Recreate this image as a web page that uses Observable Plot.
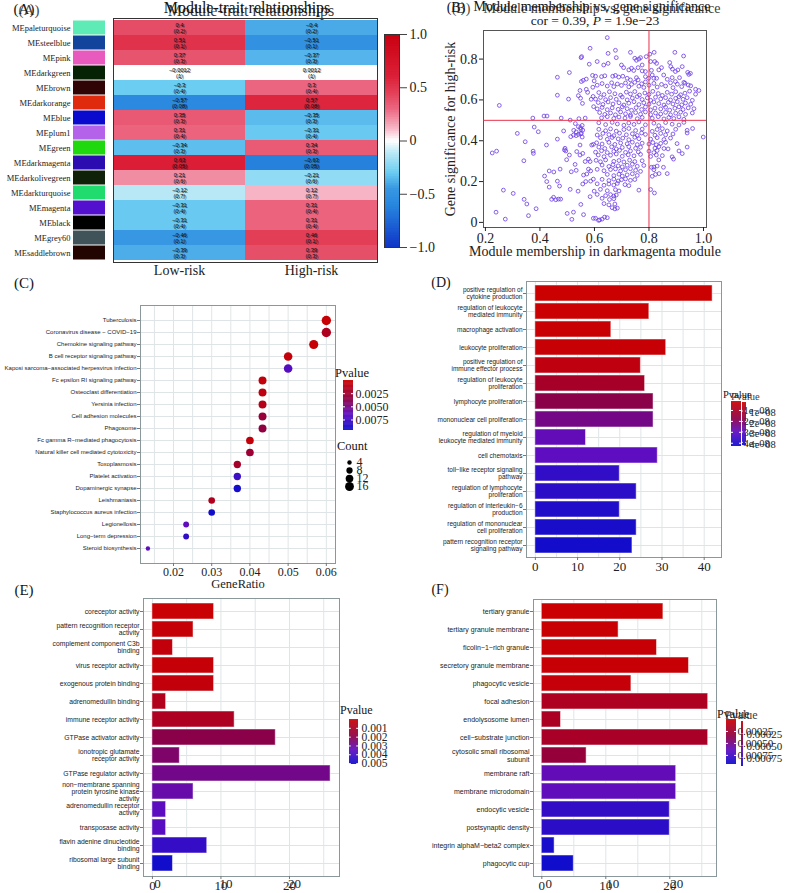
<!DOCTYPE html>
<html><head><meta charset="utf-8">
<script src="https://cdn.jsdelivr.net/npm/d3@7"></script>
<script src="https://cdn.jsdelivr.net/npm/@observablehq/plot@0.6"></script>
<style>
body{margin:0;background:#fff;}
#fig{position:relative;width:787px;height:893px;overflow:hidden;background:#fff;}
.t{position:absolute;white-space:nowrap;font-family:"Liberation Serif","DejaVu Serif",serif;color:#151515;line-height:1;}
svg{overflow:visible;}
</style></head><body><div id="fig"></div><script>
// ---------------- DATA ----------------
// (A) module-trait heatmap
const modules = ["MEpaleturquoise","MEsteelblue","MEpink","MEdarkgreen","MEbrown","MEdarkorange","MEblue","MEplum1","MEgreen","MEdarkmagenta","MEdarkolivegreen","MEdarkturquoise","MEmagenta","MEblack","MEgrey60","MEsaddlebrown"];
const moduleColors = ["#5EEBB5","#12449C","#E85ABE","#052205","#300404","#E02A0E","#0A0ACF","#B362E9","#20D80E","#2A0CB0","#0F2209","#20DB6E","#5410CF","#000000","#3F5358","#220500"];
const traits = ["Low-risk","High-risk"];
const lowRiskCor = [0.4,0.51,0.37,-0.0012,-0.3,-0.57,0.35,0.31,-0.34,0.63,0.21,-0.12,-0.31,-0.31,-0.46,-0.39];
const highRiskCor = [-0.4,-0.51,-0.37,0.0012,0.3,0.57,-0.35,-0.31,0.34,-0.63,-0.21,0.12,0.31,0.31,0.46,0.39];
const corPvalue = ["(0.2)","(0.1)","(0.3)","(1)","(0.4)","(0.08)","(0.3)","(0.4)","(0.3)","(0.05)","(0.6)","(0.7)","(0.4)","(0.4)","(0.1)","(0.3)"];
const heatTicks = [-1,-0.5,0,0.5,1];

// (B) module membership vs gene significance: [MM, GS]
const scatterPoints = [
[0.584,0.853],[0.551,0.807],[0.553,0.812],[0.581,0.775],[0.508,0.734],[0.464,0.711],[0.593,0.72],[0.552,0.69],[0.57,0.702],[0.599,0.693],[0.547,0.646],[0.594,0.662],[0.464,0.623],[0.541,0.621],[0.505,0.604],[0.549,0.608],[0.556,0.583],[0.588,0.603],[0.597,0.567],[0.251,0.573],[0.374,0.511],[0.415,0.521],[0.426,0.521],[0.478,0.511],[0.511,0.501],[0.566,0.511],[0.379,0.467],[0.530,0.484],[0.541,0.469],[0.549,0.464],
[0.559,0.696],[0.575,0.637],[0.595,0.617],[0.57,0.652],[0.543,0.508],[0.555,0.475],[0.524,0.451],[0.533,0.443],[0.549,0.435],[0.555,0.418],
[0.317,0.436],[0.394,0.444],[0.346,0.395],[0.225,0.34],[0.241,0.349],[0.375,0.349],[0.376,0.338],[0.341,0.302],[0.424,0.379],[0.464,0.408],[0.487,0.448],[0.523,0.428],[0.533,0.425],[0.541,0.431],[0.552,0.436],[0.557,0.452],[0.55,0.456],[0.513,0.42],[0.492,0.363],[0.495,0.35],[0.49,0.355],[0.547,0.379],[0.508,0.33],[0.535,0.347],[0.557,0.338],[0.547,0.33],[0.498,0.307],[0.578,0.31],[0.566,0.298],[0.584,0.298],[0.529,0.284],[0.596,0.382],[0.59,0.379],[0.474,0.261],[0.515,0.248],[0.533,0.255],[0.417,0.227],[0.434,0.252],[0.451,0.247],[0.425,0.2],[0.464,0.202],[0.434,0.173],[0.472,0.178],[0.511,0.162],[0.56,0.232],[0.572,0.237],[0.586,0.252],[0.578,0.261],[0.557,0.188],[0.568,0.2],[0.586,0.202],[0.596,0.212],[0.54,0.153],[0.599,0.153],[0.266,0.158],[0.302,0.142],[0.342,0.113],[0.352,0.09],[0.386,0.067],[0.443,0.113],[0.45,0.123],[0.458,0.111],[0.468,0.114],[0.476,0.114],[0.584,0.126],[0.55,0.088],[0.239,0.05],[0.273,0.016],[0.358,0.033],[0.5,0.044],[0.523,0.05],[0.56,0.038],[0.517,0.015],[0.596,0.02],
[0.647,0.905],[0.65,0.828],[0.677,0.843],[0.68,0.807],[0.732,0.833],[0.748,0.804],[0.754,0.794],[0.763,0.8],[0.769,0.807],[0.79,0.812],[0.803,0.824],[0.819,0.833],[0.895,0.833],[0.927,0.815],[0.806,0.788],[0.821,0.788],[0.828,0.779],[0.876,0.783],[0.61,0.788],[0.634,0.771],[0.65,0.779],[0.699,0.771],[0.707,0.758],[0.726,0.747],[0.736,0.755],[0.744,0.744],[0.775,0.771],[0.787,0.739],[0.775,0.742],[0.76,0.758],[0.809,0.745],[0.836,0.747],[0.846,0.758],[0.88,0.763],[0.886,0.751],[0.897,0.739],[0.906,0.747],[0.922,0.763],[0.942,0.735],[0.952,0.73],[0.946,0.725],[0.604,0.716],[0.626,0.714],[0.638,0.718],[0.667,0.716],[0.677,0.72],[0.689,0.712],[0.704,0.716],[0.72,0.706],[0.732,0.698],[0.754,0.709],[0.76,0.698],[0.787,0.714],[0.799,0.706],[0.812,0.722],[0.818,0.706],[0.828,0.706],[0.854,0.722],[0.867,0.701],[0.885,0.709],[0.897,0.69],[0.912,0.709],[0.928,0.686],[0.944,0.673],[0.971,0.652],[0.983,0.646],
[0.61,0.672],[0.628,0.68],[0.647,0.668],[0.663,0.684],[0.671,0.665],[0.684,0.678],[0.699,0.671],[0.714,0.683],[0.726,0.664],[0.736,0.676],[0.748,0.686],[0.763,0.667],[0.773,0.679],[0.781,0.661],[0.787,0.688],[0.8,0.672],[0.818,0.681],[0.83,0.663],[0.846,0.676],[0.861,0.668],[0.879,0.684],[0.888,0.66],[0.904,0.677],[0.92,0.665],[0.932,0.682],[0.953,0.669],
[0.616,0.636],[0.635,0.626],[0.655,0.64],[0.675,0.63],[0.696,0.623],[0.717,0.638],[0.732,0.629],[0.748,0.641],[0.765,0.624],[0.785,0.634],[0.8,0.627],[0.814,0.642],[0.834,0.631],[0.849,0.622],[0.867,0.637],[0.883,0.628],[0.898,0.64],[0.916,0.625],[0.932,0.633],[0.949,0.643],[0.971,0.628],
[0.604,0.604],[0.622,0.612],[0.641,0.601],[0.659,0.611],[0.68,0.603],[0.702,0.614],[0.72,0.6],[0.739,0.609],[0.757,0.616],[0.775,0.602],[0.794,0.61],[0.806,0.598],[0.824,0.613],[0.843,0.605],[0.861,0.611],[0.879,0.6],[0.898,0.608],[0.91,0.616],[0.925,0.603],[0.94,0.611],[0.959,0.598],
[0.614,0.587],[0.631,0.578],[0.65,0.59],[0.668,0.58],[0.69,0.586],[0.708,0.575],[0.726,0.584],[0.745,0.591],[0.763,0.577],[0.781,0.586],[0.8,0.579],[0.818,0.59],[0.836,0.582],[0.855,0.575],[0.871,0.588],[0.888,0.58],[0.904,0.591],[0.92,0.576],[0.934,0.585],[0.953,0.579],
[0.61,0.556],[0.628,0.563],[0.647,0.552],[0.665,0.561],[0.687,0.554],[0.702,0.566],[0.72,0.557],[0.736,0.549],[0.753,0.562],[0.773,0.553],[0.787,0.565],[0.806,0.551],[0.822,0.56],[0.843,0.556],[0.861,0.564],[0.876,0.55],[0.895,0.559],[0.91,0.566],[0.925,0.553],[0.944,0.561],[0.965,0.557],
[0.619,0.538],[0.638,0.529],[0.659,0.536],[0.677,0.527],[0.696,0.541],[0.714,0.532],[0.732,0.526],[0.751,0.538],[0.769,0.53],[0.787,0.541],[0.806,0.528],[0.824,0.536],[0.843,0.531],[0.861,0.539],[0.879,0.527],[0.898,0.535],[0.916,0.54],[0.934,0.529],[0.959,0.536],
[0.626,0.512],[0.647,0.518],[0.671,0.509],[0.69,0.516],[0.712,0.511],[0.732,0.519],[0.757,0.508],[0.775,0.514],[0.812,0.51],[0.834,0.518],[0.855,0.507],[0.873,0.514],[0.891,0.509],[0.91,0.517],[0.928,0.505],
[0.616,0.488],[0.641,0.479],[0.665,0.49],[0.684,0.482],[0.708,0.476],[0.726,0.487],[0.745,0.48],[0.763,0.492],[0.787,0.478],[0.818,0.486],[0.836,0.474],[0.861,0.489],[0.885,0.481],[0.91,0.477],[0.928,0.49],
[0.616,0.456],[0.641,0.449],[0.659,0.458],[0.68,0.447],[0.708,0.455],[0.726,0.46],[0.751,0.45],[0.775,0.457],[0.812,0.446],[0.83,0.455],[0.849,0.459],[0.867,0.448],[0.898,0.456],[0.94,0.451],
[0.61,0.428],[0.631,0.436],[0.653,0.43],[0.671,0.425],[0.692,0.437],[0.717,0.429],[0.739,0.434],[0.757,0.426],[0.773,0.438],[0.787,0.431],[0.822,0.427],[0.843,0.436],[0.861,0.429],[0.888,0.433],[0.94,0.438],
[0.622,0.415],[0.647,0.407],[0.665,0.416],[0.687,0.409],[0.704,0.413],[0.726,0.405],[0.748,0.417],[0.763,0.41],[0.806,0.408],[0.83,0.415],[0.855,0.406],[0.879,0.413],
[0.608,0.39],[0.628,0.384],[0.653,0.392],[0.675,0.382],[0.696,0.389],[0.72,0.385],[0.739,0.393],[0.757,0.381],[0.775,0.388],[0.8,0.384],[0.814,0.391],[0.827,0.38],[0.843,0.387],[0.861,0.392],
[0.616,0.369],[0.638,0.362],[0.663,0.37],[0.68,0.36],[0.702,0.367],[0.726,0.371],[0.751,0.363],[0.769,0.368],[0.822,0.364],[0.836,0.371],[0.855,0.362],
[0.604,0.344],[0.626,0.351],[0.647,0.342],[0.671,0.348],[0.692,0.353],[0.714,0.343],[0.732,0.35],[0.761,0.345],[0.8,0.349],[0.818,0.342],[0.83,0.352],
[0.614,0.33],[0.635,0.322],[0.659,0.329],[0.68,0.335],[0.702,0.324],[0.724,0.331],[0.745,0.326],[0.769,0.333],[0.806,0.323],[0.827,0.33],[0.849,0.327],[0.885,0.321],
[0.606,0.304],[0.622,0.297],[0.641,0.306],[0.671,0.299],[0.69,0.303],[0.708,0.296],[0.729,0.305],[0.748,0.298],[0.775,0.302],[0.836,0.306],
[0.628,0.281],[0.653,0.274],[0.668,0.283],[0.687,0.277],[0.702,0.272],[0.72,0.28],[0.739,0.285],[0.757,0.275],[0.781,0.279],[0.809,0.27],[0.83,0.276],
[0.61,0.26],[0.635,0.253],[0.659,0.259],[0.677,0.262],[0.696,0.252],[0.714,0.258],[0.732,0.263],[0.751,0.255],[0.769,0.25],[0.818,0.258],
[0.647,0.235],[0.671,0.229],[0.69,0.236],[0.702,0.227],[0.72,0.233],[0.739,0.238],[0.757,0.23],[0.812,0.226],[0.824,0.235],
[0.628,0.211],[0.653,0.205],[0.671,0.212],[0.687,0.203],[0.699,0.209],[0.714,0.213],[0.732,0.206],[0.748,0.21],
[0.61,0.189],[0.635,0.182],[0.653,0.188],[0.671,0.183],[0.684,0.191],[0.712,0.185],[0.726,0.18],
[0.622,0.162],[0.647,0.155],[0.677,0.16],[0.69,0.154],[0.763,0.158],[0.806,0.161],
[0.61,0.137],[0.641,0.131],[0.659,0.136],[0.671,0.129],[0.68,0.134],
[0.628,0.118],[0.655,0.112],[0.671,0.116],[0.635,0.092],[0.653,0.086],[0.675,0.09],[0.665,0.072],[0.675,0.066],[0.684,0.07],
[0.604,0.02],[0.615,0.01],[0.628,0.016],[0.637,0.026],[0.647,0.023],[0.619,0.012],
[0.818,0.271],[0.837,0.239],[0.82,0.144],[0.903,0.386],[0.922,0.337],[0.94,0.369],[0.999,0.418],[0.96,0.46],[0.91,0.35],[0.89,0.31],[0.87,0.36],[0.853,0.27],[0.867,0.239]
];
const scatterXTicks = [0.2,0.4,0.6,0.8,1.0];
const scatterYTicks = [0,0.2,0.4,0.6,0.8];

// (C) KEGG dot plot
const keggTerms = ["Tuberculosis","Coronavirus disease − COVID−19","Chemokine signaling pathway","B cell receptor signaling pathway","Kaposi sarcoma−associated herpesvirus infection","Fc epsilon RI signaling pathway","Osteoclast differentiation","Yersinia infection","Cell adhesion molecules","Phagosome","Fc gamma R−mediated phagocytosis","Natural killer cell mediated cytotoxicity","Toxoplasmosis","Platelet activation","Dopaminergic synapse","Leishmaniasis","Staphylococcus aureus infection","Legionellosis","Long−term depression","Steroid biosynthesis"];
const keggGeneRatio = [0.06,0.06,0.0567,0.05,0.05,0.0433,0.0433,0.0433,0.0433,0.0433,0.04,0.04,0.0367,0.0367,0.0367,0.03,0.03,0.0233,0.0233,0.0133];
const keggCount = [18,18,17,15,15,13,13,13,13,13,12,12,11,11,11,9,9,7,7,4];
const keggPvalue = [0.0003,0.0016,0.0003,0.0004,0.0068,0.0006,0.0009,0.0013,0.0030,0.0034,0.0005,0.0027,0.0022,0.0078,0.0092,0.0015,0.0093,0.0064,0.0082,0.0066];
const keggTicks = [0.02,0.03,0.04,0.05,0.06];
const keggPTicks = [0.0025,0.005,0.0075];
const keggCountTicks = [4,8,12,16];

// (D) GO biological process
const bpTerms = ["positive regulation of\ncytokine production","regulation of leukocyte\nmediated immunity","macrophage activation","leukocyte proliferation","positive regulation of\nimmune effector process","regulation of leukocyte\nproliferation","lymphocyte proliferation","mononuclear cell proliferation","regulation of myeloid\nleukocyte mediated immunity","cell chemotaxis","toll−like receptor signaling\npathway","regulation of lymphocyte\nproliferation","regulation of interleukin−6\nproduction","regulation of mononuclear\ncell proliferation","pattern recognition receptor\nsignaling pathway"];
const bpCount = [42,27,18,31,25,26,28,28,12,29,20,24,20,24,23];
const bpPvalue = [2.0e-9,2.2e-9,2.5e-9,3.0e-9,5.0e-9,1.1e-8,1.8e-8,2.4e-8,2.9e-8,3.0e-8,3.7e-8,3.8e-8,4.0e-8,4.1e-8,4.2e-8];
const bpPTicks = [1e-8,2e-8,3e-8,4e-8];
const bpPLabels = ["1e−08","2e−08","3e−08","4e−08"];

// (E) GO molecular function
const mfTerms = ["coreceptor activity","pattern recognition receptor\nactivity","complement component C3b\nbinding","virus receptor activity","exogenous protein binding","adrenomedullin binding","immune receptor activity","GTPase activator activity","ionotropic glutamate\nreceptor activity","GTPase regulator activity","non−membrane spanning\nprotein tyrosine kinase\nactivity","adrenomedullin receptor\nactivity","transposase activity","flavin adenine dinucleotide\nbinding","ribosomal large subunit\nbinding"];
const mfCount = [9,6,3,9,9,2,12,18,4,26,6,2,2,8,3];
const mfPvalue = [0.0001,0.0002,0.0003,0.0002,0.0003,0.0008,0.0009,0.0020,0.0024,0.0028,0.0032,0.0035,0.0036,0.0043,0.0050];
const mfPTicks = [0.001,0.002,0.003,0.004,0.005];

// (F) GO cellular component
const ccTerms = ["tertiary granule","tertiary granule membrane","ficolin−1−rich granule","secretory granule membrane","phagocytic vesicle","focal adhesion","endolysosome lumen","cell−substrate junction","cytosolic small ribosomal\nsubunit","membrane raft","membrane microdomain","endocytic vesicle","postsynaptic density","integrin alphaM−beta2 complex","phagocytic cup"];
const ccCount = [19,12,18,23,14,26,3,26,7,21,21,20,20,2,5];
const ccPvalue = [0.00001,0.00002,0.00003,0.00003,0.00004,0.00017,0.00018,0.0002,0.0003,0.00062,0.00063,0.0008,0.00083,0.0009,0.00093];
const ccPTicks = [0.00025,0.0005,0.00075];

// ---------------- HELPERS ----------------
const SERIF = "Liberation Serif, DejaVu Serif, serif";
const SANS = "Liberation Sans, Arial, sans-serif";
const fig = document.getElementById("fig");
const RAMP = ["#CC0000","#8C0045","#5F0DC0","#0D0DCC"];
const ramp = (d0,d1) => ({type:"linear", domain:[d0, d0+0.38*(d1-d0), d0+0.68*(d1-d0), d1], range: RAMP});
const heatColor = {type:"linear", domain:[-1,-0.6,-0.45,-0.3,-0.12,0,0.12,0.3,0.45,0.6,1],
  range:["#1035C8","#2887DF","#3898E2","#6CCDF2","#B8E8F6","#FFFFFF","#F6B4C4","#EC6580","#E24058","#DC2038","#C80010"]};
const minus = s => String(s).replace("-","−");

function place(node, left, top){ node.style.position="absolute"; node.style.left=left+"px"; node.style.top=top+"px"; fig.appendChild(node); return node; }
function txt(s, x, y, o={}){
  const d=document.createElement("div"); d.className="t"; d.innerHTML=s;
  d.style.fontSize=(o.size||14)+"px";
  const ax = o.anchor==="start"?"0":o.anchor==="end"?"-100%":"-50%";
  d.style.left=x+"px"; d.style.top=y+"px"; d.style.transform=`translate(${ax},-50%)`;
  if(o.family) d.style.fontFamily=o.family;
  if(o.opacity) d.style.opacity=o.opacity;
  fig.appendChild(d); return d;
}
const baseStyle = {overflow:"visible", background:"transparent", color:"#222"};

function colorbar({left, top, w, h, domain, color, ticks, fmt, fontSize=11, reverse=true, outerTicks=false, outline=null, labelDx=2, labelDy=0, showLabels=true}){
  const [d0,d1]=domain, n=90, step=(d1-d0)/n;
  const steps = d3.range(n).map(i => ({a:d0+step*i, b:Math.min(d1, d0+step*(i+1.6)), m:d0+step*(i+0.5)}));
  const marks=[Plot.rect(steps,{x1:0,x2:1,y1:"a",y2:"b",fill:"m"})];
  if(outerTicks) marks.push(Plot.ruleY(ticks,{x1:1,x2:1+8/w,stroke:"#444"}));
  else marks.push(Plot.ruleY(ticks,{x1:0,x2:0.2,stroke:"white"}),Plot.ruleY(ticks,{x1:0.8,x2:1,stroke:"white"}));
  if(outline) marks.push(Plot.frame({stroke:outline}));
  if(showLabels) marks.push(Plot.text(ticks,{x:1,y:d=>d,text:(d,i)=>fmt(d,i),textAnchor:"start",dx:labelDx,dy:labelDy,fontSize,fontFamily:SERIF,fill:"#222"}));
  const svg = Plot.plot({width:w+90,height:h,marginTop:0,marginBottom:0,marginLeft:0,marginRight:90,
    x:{domain:[0,1],axis:null}, y:{domain:[d0,d1],reverse,axis:null}, color, style:baseStyle, marks});
  return place(svg,left,top);
}

// ---------------- (A) ----------------
txt("(A)",24,9,{size:15}); txt("(A)",29,10,{size:15,opacity:0.8});
txt("Module-trait relationships",247,8,{size:16}); txt("Module-trait relationships",251,11,{size:16,opacity:0.85});

place(Plot.plot({
  width:105, height:244, marginLeft:73, marginRight:0, marginTop:0, marginBottom:0,
  x:{domain:[0,1],axis:null}, y:{type:"band",domain:modules,padding:0},
  color:{type:"identity"}, style:baseStyle,
  marks:[
    Plot.barX(modules.map((m,i)=>({m,c:moduleColors[i]})),{x1:0,x2:1,y:"m",fill:"c",insetTop:0.5,insetBottom:0.5}),
    Plot.axisY({tickSize:0,tickPadding:3,fontSize:8.5,fontFamily:SERIF,label:null})
  ]
}),0,18);

const heatData = [];
modules.forEach((m,i)=>{
  heatData.push({module:m,trait:"Low-risk",cor:lowRiskCor[i],p:corPvalue[i]});
  heatData.push({module:m,trait:"High-risk",cor:highRiskCor[i],p:corPvalue[i]});
});
place(Plot.plot({
  width:264, height:274, marginLeft:0, marginRight:0, marginTop:0, marginBottom:30,
  x:{type:"band",domain:traits,padding:0}, y:{type:"band",domain:modules,padding:0,axis:null},
  color:heatColor, style:baseStyle,
  marks:[
    Plot.cell(heatData,{x:"trait",y:"module",fill:"cor"}),
    Plot.text(heatData,{x:"trait",y:"module",text:d=>minus(d.cor)+"\n"+d.p,fontSize:5.8,fontFamily:SANS,fill:"#111",lineHeight:1.0}),
    Plot.text(heatData,{x:"trait",y:"module",text:d=>minus(d.cor)+"\n"+d.p,fontSize:5.8,fontFamily:SANS,fill:"#111",fillOpacity:0.7,lineHeight:1.0,dx:1.2,dy:1}),
    Plot.frame({stroke:"#333"}),
    Plot.axisX({tickSize:0,tickPadding:3,fontSize:14,fontFamily:SERIF,label:null})
  ]
}),113,18);

colorbar({left:384,top:34,w:15,h:213,domain:[-1,1],color:heatColor,ticks:heatTicks,
  fmt:d=>d===0?"0":minus(d.toFixed(1)),fontSize:14,reverse:false,outerTicks:true,outline:"#333",labelDx:10});

// ---------------- (B) ----------------
txt("(B)",456,8,{size:14}); txt("(B)",461,9,{size:14,opacity:0.8});
txt("Module membership vs. gene significance",592,7,{size:14}); txt("Module membership vs. gene significance",602,9,{size:14,opacity:0.85});
txt("cor = 0.39, <i>P</i> = 1.9e−23",595,21,{size:13.5});

place(Plot.plot({
  width:276, height:242, marginLeft:43, marginRight:10, marginTop:5, marginBottom:40,
  x:{domain:[0.193,1.011]}, y:{domain:[-0.025,0.94]}, style:baseStyle,
  marks:[
    Plot.frame({stroke:"#555"}),
    Plot.dot(scatterPoints,{x:d=>d[0],y:d=>d[1],r:1.9,stroke:"#6A3BE6",strokeWidth:0.8}),
    Plot.ruleX([0.8],{stroke:"#E8304A",strokeWidth:1}),
    Plot.ruleY([0.5],{stroke:"#E8304A",strokeWidth:1}),
    Plot.axisX({ticks:scatterXTicks,tickFormat:d3.format(".1f"),tickSize:4,tickPadding:2,fontSize:14,fontFamily:SERIF,label:null}),
    Plot.axisY({ticks:scatterYTicks,tickFormat:d=>d===0?"0":d.toFixed(1),tickSize:4,tickPadding:2,fontSize:14,fontFamily:SERIF,label:null}),
    Plot.text(["Module membership in darkmagenta module"],{frameAnchor:"bottom",dy:28,text:d=>d,fontSize:14,fontFamily:SERIF}),
    Plot.text(["Gene significance for high-risk"],{frameAnchor:"left",textAnchor:"middle",dx:-33,rotate:-90,text:d=>d,fontSize:14,fontFamily:SERIF})
  ]
}),440,25);

// ---------------- (C) ----------------
txt("(C)",24,283,{size:15});
const kegg = keggTerms.map((t,i)=>({term:t,ratio:keggGeneRatio[i],count:keggCount[i],p:keggPvalue[i]}));
const keggColor = ramp(0,0.0095);
const rScale = {type:"sqrt",domain:[0,18],range:[0,4.7]};
place(Plot.plot({
  width:400, height:295, marginLeft:140, marginRight:65, marginTop:5, marginBottom:32,
  x:{domain:[0.01136,0.0624]}, y:{type:"point",domain:keggTerms,padding:0.625},
  r:rScale, color:keggColor, style:baseStyle,
  marks:[
    Plot.gridX([0.015,0.02,0.025,0.03,0.035,0.04,0.045,0.05,0.055,0.06],{stroke:"#dfe5e7",strokeOpacity:1}),
    Plot.gridY(keggTerms,{stroke:"#dfe5e7",strokeOpacity:1}),
    Plot.frame({stroke:"#8a979b"}),
    Plot.dot(kegg,{x:"ratio",y:"term",r:"count",fill:"p"}),
    Plot.axisY({tickSize:3,tickPadding:1,fontSize:6,fontFamily:SANS,label:null,stroke:"#777"}),
    Plot.axisX({ticks:keggTicks,tickFormat:d3.format(".2f"),tickSize:3,tickPadding:1,fontSize:12,fontFamily:SERIF,label:null,stroke:"#777"}),
    Plot.text(["GeneRatio"],{frameAnchor:"bottom",dy:24,text:d=>d,fontSize:12.5,fontFamily:SERIF})
  ]
}),0,300);
txt("Pvalue",335,373,{size:12.5,anchor:"start"});
colorbar({left:343,top:380,w:10,h:50,domain:[0,0.0095],color:keggColor,ticks:keggPTicks,fmt:d=>d3.format(".4f")(d),fontSize:12});
txt("Count",337,446,{size:12.5,anchor:"start"});
place(Plot.plot({
  width:60, height:46, marginLeft:14, marginRight:46, marginTop:0, marginBottom:0,
  x:{domain:[0,1],axis:null}, y:{type:"point",domain:keggCountTicks,range:[6,41],axis:null},
  r:rScale, style:baseStyle,
  marks:[
    Plot.dot(keggCountTicks,{x:0,y:d=>d,r:d=>d,fill:"black"}),
    Plot.text(keggCountTicks,{x:0,y:d=>d,text:d=>String(d),dx:7,textAnchor:"start",fontSize:12,fontFamily:SERIF})
  ]
}),335,450);

// ---------------- bar panels ----------------
function barPanel({left, top, width, height, marginLeft, terms, counts, pvals, xDomain, grid, ticks, color, fontSize, lineHeight, ghostDx}){
  const data = terms.map((t,i)=>({term:t,count:counts[i],p:pvals[i]}));
  const marks = [
    Plot.gridX(grid,{stroke:"#dfe5e7",strokeOpacity:1}),
    Plot.gridY(terms,{stroke:"#dfe5e7",strokeOpacity:1}),
    Plot.barX(data,{x:"count",y:"term",fill:"p",stroke:"white",strokeOpacity:0.5,strokeWidth:1}),
    Plot.frame({stroke:"#8a979b"}),
    Plot.axisY({tickSize:3,tickPadding:1,fontSize,fontFamily:SANS,lineHeight,label:null,stroke:"#777"}),
    Plot.axisX({ticks,tickSize:3,tickPadding:1,fontSize:13,fontFamily:SERIF,label:null,stroke:"#777"})
  ];
  if(ghostDx) marks.push(Plot.text(ticks,{x:d=>d,frameAnchor:"bottom",dy:11,dx:ghostDx,text:d=>String(d),fontSize:13,fontFamily:SERIF,fill:"#222"}));
  return place(Plot.plot({
    width, height, marginLeft, marginRight:10, marginTop:5, marginBottom:25,
    x:{domain:xDomain}, y:{type:"band",domain:terms,paddingInner:0.1,paddingOuter:0.15},
    color, style:baseStyle, marks
  }),left,top);
}

// (D)
txt("(D)",441,283,{size:14});
const bpColor = ramp(1.8e-9,4.3e-8);
barPanel({left:400,top:276,width:331,height:306,marginLeft:126,terms:bpTerms,counts:bpCount,pvals:bpPvalue,
  xDomain:[-2.1,44.1],grid:[0,5,10,15,20,25,30,35,40],ticks:[0,10,20,30,40],color:bpColor,fontSize:6.5,lineHeight:1.1});
txt("Pvalue",723,395,{size:10.5,anchor:"start"}); txt("Pvalue",731,397,{size:10.5,anchor:"start",opacity:0.85});
colorbar({left:731,top:401,w:10,h:45,domain:[1.8e-9,4.3e-8],color:bpColor,ticks:bpPTicks,fmt:(d,i)=>bpPLabels[i],fontSize:10.5,labelDx:2});
colorbar({left:742,top:402,w:4,h:43,domain:[1.8e-9,4.3e-8],color:bpColor,ticks:bpPTicks,fmt:(d,i)=>bpPLabels[i],fontSize:10.5,labelDx:3,labelDy:2});

// (E)
txt("(E)",24,590,{size:15});
const mfColor = ramp(0,0.0051);
barPanel({left:0,top:593,width:349,height:308,marginLeft:143,terms:mfTerms,counts:mfCount,pvals:mfPvalue,
  xDomain:[-1.3,27.3],grid:[0,5,10,15,20,25],ticks:[0,10,20],color:mfColor,fontSize:6.8,lineHeight:1.05,ghostDx:5});
txt("Pvalue",340,710,{size:12,anchor:"start"});
colorbar({left:349,top:719,w:9,h:45,domain:[0,0.0051],color:mfColor,ticks:mfPTicks,fmt:d=>d3.format(".3f")(d),fontSize:11.5,labelDx:3});

// (F)
txt("(F)",440,590,{size:14});
const ccColor = ramp(0,0.00094);
barPanel({left:400,top:594,width:326,height:307,marginLeft:133,terms:ccTerms,counts:ccCount,pvals:ccPvalue,
  xDomain:[-1.3,27.3],grid:[0,5,10,15,20,25],ticks:[0,10,20],color:ccColor,fontSize:7,lineHeight:1.05,ghostDx:7});
txt("Pvalue",717,714,{size:12,anchor:"start"}); txt("Pvalue",725,715,{size:12,anchor:"start",opacity:0.85});
colorbar({left:726,top:719,w:10,h:45,domain:[0,0.00094],color:ccColor,ticks:ccPTicks,fmt:d=>d3.format(".5f")(d),fontSize:11,labelDx:1});
colorbar({left:741,top:721,w:2,h:45,domain:[0,0.00094],color:ccColor,ticks:ccPTicks,fmt:d=>d3.format(".5f")(d),fontSize:11,labelDx:3,labelDy:1});
</script></body></html>
